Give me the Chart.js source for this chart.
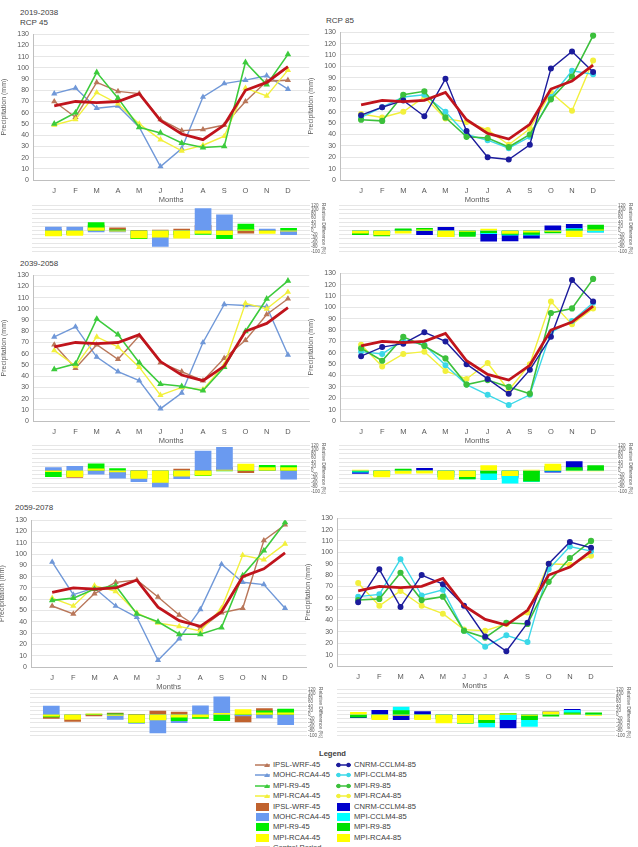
<!DOCTYPE html>
<html>
<head>
<meta charset="utf-8">
<script src="https://cdn.jsdelivr.net/npm/chart.js@4.4.0/dist/chart.umd.min.js"></script>
<style>
  body { margin:0; background:#fff; width:638px; height:847px; overflow:hidden; position:relative;
         font-family:'Liberation Sans', Arial, sans-serif; }
  canvas { position:absolute; }
  .lbl { position:absolute; font-size:8px; color:#404040; line-height:10px; white-space:nowrap; }
  .leg { position:absolute; font-size:7.6px; color:#404040; line-height:10px; white-space:nowrap; }
</style>
</head>
<body>
<div class="lbl" style="left:20px;top:8px">2019-2038</div>
<div class="lbl" style="left:20px;top:18px">RCP 45</div>
<div class="lbl" style="left:326px;top:16px">RCP 85</div>
<div class="lbl" style="left:20px;top:259px">2039-2058</div>
<div class="lbl" style="left:15px;top:503px">2059-2078</div>
<div id="legend"></div>
<script>
// months on the x axis
var months = ['J','F','M','A','M','J','J','A','S','O','N','D'];

// control period (same in every panel)
var control = [66,70,69,70,77,53,41,36,49,80,87,101];

// 2019-2038 RCP 4.5 precipitation (mm)
var ipsl45_a = [70,56,87,79,77,54,44,45,49,70,88,89];
var mohc45_a = [77,82,64,66,47,12,28,74,86,89,93,81];
var r945_a   = [50,60,96,73,47,42,33,29,30,105,85,112];
var rca45_a  = [49,54,78,68,50,36,26,31,39,82,75,98];
// 2019-2038 RCP 8.5
var cnrm85_a = [57,64,70,56,89,43,20,18,31,98,113,95];
var cclm85_a = [55,64,73,75,60,40,35,28,38,73,96,93];
var r985_a   = [53,52,75,78,55,38,37,29,40,71,91,127];
var rca85_a  = [58,55,60,73,54,51,44,31,45,77,61,105];

// 2039-2058 RCP 4.5
var ipsl45_b = [68,47,68,55,76,52,44,36,56,72,95,109];
var mohc45_b = [75,84,57,44,36,11,25,70,104,103,102,59];
var r945_b   = [46,51,91,77,52,33,31,27,48,80,109,125];
var rca45_b  = [63,49,75,66,48,23,30,28,50,105,100,115];
// 2039-2058 RCP 8.5
var cnrm85_b = [57,65,68,78,70,50,37,24,45,74,124,105];
var cclm85_b = [61,59,71,67,49,32,23,14,23,78,88,104];
var r985_b   = [64,53,74,66,55,32,36,30,24,95,99,125];
var rca85_b  = [67,48,59,61,44,37,51,27,50,105,85,99];

// 2059-2078 RCP 4.5
var ipsl45_c = [54,47,65,75,77,62,46,34,48,52,112,126];
var mohc45_c = [93,64,70,54,44,6,25,51,91,75,73,52];
var r945_c   = [59,61,69,72,47,40,29,29,35,81,103,128];
var rca45_c  = [61,54,72,67,48,39,36,32,52,99,95,109];
// 2059-2078 RCP 8.5
var cnrm85_c = [56,85,52,80,72,53,26,13,38,90,109,104];
var cclm85_c = [61,63,94,62,67,31,17,27,21,85,105,101];
var r985_c   = [58,59,82,58,61,31,25,38,37,74,95,110];
var rca85_c  = [73,53,66,53,46,32,31,37,47,90,89,97];

// relative difference (%) bars
var rd_ipsl45_a = [6,-20,26,13,0,2,7,25,0,-12,1,-12];
var rd_mohc45_a = [17,17,-7,-6,-39,-77,-32,106,76,11,7,-20];
var rd_r945_a   = [-24,-14,39,4,-39,-21,-20,-19,-39,31,-2,11];
var rd_rca45_a  = [-26,-23,13,-3,-35,-32,-37,-14,-20,3,-14,-3];
var rd_cnrm85_a = [-14,-9,1,-20,16,-19,-51,-50,-37,23,30,-6];
var rd_cclm85_a = [-17,-9,6,7,-22,-25,-15,-22,-22,-9,10,-8];
var rd_r985_a   = [-20,-26,9,11,-29,-28,-10,-19,-18,-11,5,26];
var rd_rca85_a  = [-12,-21,-13,4,-30,-4,7,-14,-8,-4,-30,4];

var rd_ipsl45_b = [3,-33,-1,-21,-1,-2,7,0,14,-10,9,8];
var rd_mohc45_b = [14,20,-17,-37,-53,-79,-39,94,112,29,17,-42];
var rd_r945_b   = [-30,-27,32,10,-32,-38,-24,-25,-2,0,25,24];
var rd_rca45_b  = [-5,-30,9,-6,-38,-57,-27,-22,2,31,15,14];
var rd_cnrm85_b = [-14,-7,-1,11,-9,-6,-10,-33,-8,-8,43,4];
var rd_cclm85_b = [-8,-16,3,-4,-36,-40,-44,-61,-53,-3,1,3];
var rd_r985_b   = [-3,-24,7,-6,-29,-40,-12,-17,-51,19,14,24];
var rd_rca85_b  = [2,-31,-14,-13,-43,-30,24,-25,2,31,-2,-2];

var rd_ipsl45_c = [-18,-33,-6,7,0,17,12,-6,-2,-35,29,25];
var rd_mohc45_c = [41,-9,1,-23,-43,-89,-39,42,86,-6,-16,-49];
var rd_r945_c   = [-11,-13,0,3,-39,-25,-29,-19,-29,1,18,27];
var rd_rca45_c  = [-8,-23,4,-4,-38,-26,-12,-11,6,24,9,8];
var rd_cnrm85_c = [-15,21,-25,14,-6,0,-37,-64,-22,13,25,3];
var rd_cclm85_c = [-8,-10,36,-11,-13,-42,-59,-25,-57,6,21,0];
var rd_r985_c   = [-12,-16,19,-17,-21,-42,-39,6,-24,-8,9,9];
var rd_rca85_c  = [11,-24,-4,-24,-40,-40,-24,3,-4,13,2,-4];

// colours
var lineCol = { ipsl:'#B9775A', mohc:'#7098D8', r945:'#3CCB3C', rca:'#F2F03C',
                cnrm:'#1C1C9C', cclm:'#3CD8E8', r985:'#3CC03C', ctrl:'#C0141C' };
var barCol  = { ipsl:'#C0622E', mohc:'#6A9AF0', r945:'#00EE00', rca:'#FFFF00',
                cnrm:'#0000CC', cclm:'#00FFFF', r985:'#00E000' };

var FONT = "'Liberation Sans', Arial, sans-serif";
Chart.defaults.font.family = FONT;
Chart.defaults.color = '#595959';

function makeCanvas(x, y, w, h) {
  var c = document.createElement('canvas');
  c.width = w; c.height = h;
  c.style.left = x + 'px'; c.style.top = y + 'px';
  c.style.width = w + 'px'; c.style.height = h + 'px';
  document.body.appendChild(c);
  return c;
}

function pts(vals) {
  return vals.map(function (v, i) { return { x: i + 1, y: v }; });
}

function lineSet(vals, col, style, w) {
  return {
    data: pts(vals), borderColor: col, backgroundColor: col, borderWidth: w || 1.4,
    pointStyle: style, pointRadius: style === 'circle' ? 2.3 : 2.2, tension: 0
  };
}

function lineChart(r, sets) {
  var yW = 33, xH = 24, padT = 6, padR = 6;
  var cv = makeCanvas(r.l - yW, r.t - padT, r.r - r.l + yW + padR, r.b - r.t + padT + xH);
  new Chart(cv, {
    type: 'line',
    data: { datasets: sets },
    options: {
      responsive: false, animation: false,
      layout: { padding: { top: padT, right: padR, left: 0, bottom: 0 } },
      plugins: { legend: { display: false }, tooltip: { enabled: false } },
      scales: {
        x: {
          type: 'linear', min: 0, max: 13,
          afterFit: function (s) { s.height = xH; },
          grid: { display: false, drawTicks: false },
          border: { color: '#BFBFBF' },
          ticks: { stepSize: 1, autoSkip: false, maxRotation: 0, padding: 6, font: { size: 7.5 },
                   callback: function (v) { return months[v - 1] || ''; } },
          title: { display: true, text: 'Months', font: { size: 7.5 }, padding: { top: 0, bottom: 0 } }
        },
        y: {
          min: 0, max: 130,
          afterFit: function (s) { s.width = yW; },
          grid: { color: '#E0E0E0', lineWidth: 0.8, drawTicks: false },
          border: { color: '#BFBFBF' },
          ticks: { stepSize: 10, autoSkip: false, padding: 4, font: { size: 7 } },
          title: { display: true, text: 'Precipitation (mm)', font: { size: 7 }, padding: { top: 0, bottom: 2 } }
        }
      }
    }
  });
}

function barSet(vals, col, ord) {
  return { data: pts(vals), backgroundColor: col, borderWidth: 0, grouped: false, order: ord, barThickness: 16 };
}

function barChart(r, sets) {
  var yW = 16, pad = 3;
  var cv = makeCanvas(r.l, r.t - pad, r.r - r.l + yW, r.b - r.t + 2 * pad);
  new Chart(cv, {
    type: 'bar',
    data: { datasets: sets },
    options: {
      responsive: false, animation: false,
      layout: { padding: { top: pad, bottom: pad, left: 0, right: 0 } },
      plugins: { legend: { display: false }, tooltip: { enabled: false } },
      scales: {
        x: { type: 'linear', min: 0, max: 13, offset: false, display: false },
        y: {
          position: 'right', min: -100, max: 120,
          afterFit: function (s) { s.width = yW; },
          grid: { color: '#E0E0E0', lineWidth: 0.8, drawTicks: false },
          border: { display: false },
          ticks: { stepSize: 20, padding: 1, autoSkip: false, font: { size: 4.5 } },
          title: { display: true, text: 'Relative Difference (%)', font: { size: 5 }, padding: 0 }
        }
      }
    }
  });
}

function rcp45Lines(ipsl, mohc, r9, rca) {
  return [
    lineSet(control, lineCol.ctrl, false, 2.8),
    lineSet(r9, lineCol.r945, 'triangle', 1.6),
    lineSet(rca, lineCol.rca, 'triangle'),
    lineSet(ipsl, lineCol.ipsl, 'triangle'),
    lineSet(mohc, lineCol.mohc, 'triangle')
  ];
}
function rcp85Lines(cnrm, cclm, r9, rca) {
  return [
    lineSet(control, lineCol.ctrl, false, 2.8),
    lineSet(cnrm, lineCol.cnrm, 'circle'),
    lineSet(r9, lineCol.r985, 'circle', 1.6),
    lineSet(cclm, lineCol.cclm, 'circle'),
    lineSet(rca, lineCol.rca, 'circle')
  ];
}
function rcp45Bars(ipsl, mohc, r9, rca) {
  return [barSet(ipsl, barCol.ipsl, 4), barSet(mohc, barCol.mohc, 3),
          barSet(r9, barCol.r945, 2), barSet(rca, barCol.rca, 1)];
}
function rcp85Bars(cnrm, cclm, r9, rca) {
  return [barSet(cnrm, barCol.cnrm, 4), barSet(cclm, barCol.cclm, 3),
          barSet(r9, barCol.r985, 2), barSet(rca, barCol.rca, 1)];
}

// row 1
lineChart({ l: 33, t: 32, r: 310, b: 180 }, rcp45Lines(ipsl45_a, mohc45_a, r945_a, rca45_a));
lineChart({ l: 340, t: 30, r: 615, b: 180 }, rcp85Lines(cnrm85_a, cclm85_a, r985_a, rca85_a));
barChart({ l: 32, t: 205, r: 310, b: 252 }, rcp45Bars(rd_ipsl45_a, rd_mohc45_a, rd_r945_a, rd_rca45_a));
barChart({ l: 339, t: 205, r: 617, b: 252 }, rcp85Bars(rd_cnrm85_a, rd_cclm85_a, rd_r985_a, rd_rca85_a));
// row 2
lineChart({ l: 33, t: 273, r: 310, b: 421 }, rcp45Lines(ipsl45_b, mohc45_b, r945_b, rca45_b));
lineChart({ l: 340, t: 271, r: 615, b: 421 }, rcp85Lines(cnrm85_b, cclm85_b, r985_b, rca85_b));
barChart({ l: 32, t: 445, r: 310, b: 492 }, rcp45Bars(rd_ipsl45_b, rd_mohc45_b, rd_r945_b, rd_rca45_b));
barChart({ l: 339, t: 445, r: 617, b: 492 }, rcp85Bars(rd_cnrm85_b, rd_cclm85_b, rd_r985_b, rd_rca85_b));
// row 3
lineChart({ l: 31, t: 518, r: 307, b: 667 }, rcp45Lines(ipsl45_c, mohc45_c, r945_c, rca45_c));
lineChart({ l: 337, t: 516, r: 613, b: 666 }, rcp85Lines(cnrm85_c, cclm85_c, r985_c, rca85_c));
barChart({ l: 30, t: 689, r: 307, b: 736 }, rcp45Bars(rd_ipsl45_c, rd_mohc45_c, rd_r945_c, rd_rca45_c));
barChart({ l: 337, t: 689, r: 615, b: 736 }, rcp85Bars(rd_cnrm85_c, rd_cclm85_c, rd_r985_c, rd_rca85_c));

// legend
var legLeft = [
  ['IPSL-WRF-45', 'line', lineCol.ipsl, 'tri'], ['MOHC-RCA4-45', 'line', lineCol.mohc, 'tri'],
  ['MPI-R9-45', 'line', lineCol.r945, 'tri'], ['MPI-RCA4-45', 'line', lineCol.rca, 'tri'],
  ['IPSL-WRF-45', 'box', barCol.ipsl], ['MOHC-RCA4-45', 'box', barCol.mohc],
  ['MPI-R9-45', 'box', barCol.r945], ['MPI-RCA4-45', 'box', barCol.rca],
  ['Control Period', 'line', lineCol.ctrl, 'none']
];
var legRight = [
  ['CNRM-CCLM4-85', 'line', lineCol.cnrm, 'dot'], ['MPI-CCLM4-85', 'line', lineCol.cclm, 'dot'],
  ['MPI-R9-85', 'line', lineCol.r985, 'dot'], ['MPI-RCA4-85', 'line', lineCol.rca, 'dot'],
  ['CNRM-CCLM4-85', 'box', barCol.cnrm], ['MPI-CCLM4-85', 'box', barCol.cclm],
  ['MPI-R9-85', 'box', barCol.r985], ['MPI-RCA4-85', 'box', barCol.rca]
];
var leg = document.getElementById('legend');
var t = document.createElement('div');
t.className = 'leg';
t.style.cssText = 'left:319px;top:749px;font-weight:bold;';
t.textContent = 'Legend';
leg.appendChild(t);

function legItem(it, x, y) {
  var sw = document.createElementNS('http://www.w3.org/2000/svg', 'svg');
  sw.setAttribute('width', 16); sw.setAttribute('height', 10);
  sw.style.cssText = 'position:absolute;left:' + x + 'px;top:' + y + 'px;';
  var ns = 'http://www.w3.org/2000/svg', e;
  if (it[1] === 'box') {
    e = document.createElementNS(ns, 'rect');
    e.setAttribute('x', 1); e.setAttribute('y', 1); e.setAttribute('width', 13); e.setAttribute('height', 8);
    e.setAttribute('fill', it[2]); sw.appendChild(e);
  } else {
    e = document.createElementNS(ns, 'line');
    e.setAttribute('x1', 0); e.setAttribute('x2', 15); e.setAttribute('y1', 5); e.setAttribute('y2', 5);
    e.setAttribute('stroke', it[2]); e.setAttribute('stroke-width', it[3] === 'none' ? 2.5 : 1.5);
    sw.appendChild(e);
    if (it[3] === 'dot') {
      [2.5, 12.5].forEach(function (cx) {
        var c = document.createElementNS(ns, 'circle');
        c.setAttribute('cx', cx); c.setAttribute('cy', 5); c.setAttribute('r', 2.2);
        c.setAttribute('fill', it[2]); sw.appendChild(c);
      });
    } else if (it[3] === 'tri') {
      var p = document.createElementNS(ns, 'polygon');
      p.setAttribute('points', '12,3 15,7 9,7');
      p.setAttribute('fill', it[2]); sw.appendChild(p);
    }
  }
  leg.appendChild(sw);
  var d = document.createElement('div');
  d.className = 'leg';
  d.style.left = (x + 18) + 'px'; d.style.top = y + 'px';
  d.textContent = it[0];
  leg.appendChild(d);
}
legLeft.forEach(function (it, i) { legItem(it, 255, 760 + i * 10.4); });
legRight.forEach(function (it, i) { legItem(it, 336, 760 + i * 10.4); });
</script>
</body>
</html>
